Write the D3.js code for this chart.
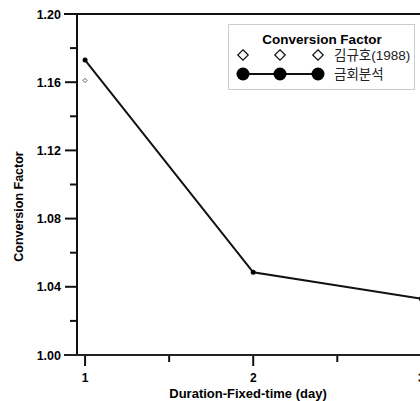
<!DOCTYPE html>
<html>
<head>
<meta charset="utf-8">
<script src="https://cdn.jsdelivr.net/npm/d3@7"></script>
<style>
  body { margin: 0; background: #fff; }
  text { font-family: Arial, "Liberation Sans", "Noto Sans CJK KR", sans-serif; }
</style>
</head>
<body>
<svg width="420" height="401"></svg>
<script>
const days = [1, 2, 3];
const current = [1.173, 1.0485, 1.033];   // 금회분석
const kimDays = [1];
const kim = [1.161];                      // 김규호(1988)
const yTicks = [1.00, 1.04, 1.08, 1.12, 1.16, 1.20];
const legendTitle = "Conversion Factor";
const legendNames = ["김규호(1988)", "금회분석"];

const svg = d3.select("svg");

const x = d3.scaleLinear().domain([0.952, 3.2]).range([77, 455]);
const y = d3.scaleLinear().domain([1.0, 1.2]).range([355, 14]);

// y axis: minor ticks
const g = svg.append("g");
g.selectAll(".yminor")
    .data(d3.range(1.02, 1.2, 0.04))
    .join("line")
    .attr("x1", 70).attr("x2", 77)
    .attr("y1", d => y(d)).attr("y2", d => y(d))
    .attr("stroke", "#111").attr("stroke-width", 2);

g.selectAll(".ymajor")
    .data(yTicks)
    .join("line")
    .attr("x1", 65).attr("x2", 77)
    .attr("y1", d => y(d)).attr("y2", d => y(d))
    .attr("stroke", "#111").attr("stroke-width", 2);

g.selectAll(".ylab")
    .data(yTicks)
    .join("text")
    .attr("x", 61).attr("y", d => y(d) + 4.5)
    .attr("text-anchor", "end")
    .style("font-size", "12.5px").style("font-weight", "bold")
    .text(d => d.toFixed(2));

// x axis ticks
g.selectAll(".xmajor")
    .data(days)
    .join("line")
    .attr("x1", d => x(d)).attr("x2", d => x(d))
    .attr("y1", 355).attr("y2", 366)
    .attr("stroke", "#111").attr("stroke-width", 2);

g.selectAll(".xminor")
    .data([1.5, 2.5])
    .join("line")
    .attr("x1", d => x(d)).attr("x2", d => x(d))
    .attr("y1", 355).attr("y2", 362)
    .attr("stroke", "#111").attr("stroke-width", 2);

g.selectAll(".xlab")
    .data(days)
    .join("text")
    .attr("x", d => x(d)).attr("y", 382)
    .attr("text-anchor", "middle")
    .style("font-size", "12px").style("font-weight", "bold")
    .text(d => d);

// frame lines
g.append("line").attr("x1", 77).attr("x2", 77).attr("y1", 14).attr("y2", 356)
    .attr("stroke", "#111").attr("stroke-width", 2);
g.append("line").attr("x1", 64).attr("x2", 420).attr("y1", 355).attr("y2", 355)
    .attr("stroke", "#222").attr("stroke-width", 2);
g.append("line").attr("x1", 64).attr("x2", 420).attr("y1", 14).attr("y2", 14)
    .attr("stroke", "#111").attr("stroke-width", 2);

// axis titles
svg.append("text")
    .attr("x", 248).attr("y", 397.5)
    .attr("text-anchor", "middle")
    .style("font-size", "13px").style("font-weight", "bold")
    .text("Duration-Fixed-time (day)");

svg.append("text")
    .attr("transform", `translate(23,${(14 + 355) / 2 + 22}) rotate(-90)`)
    .attr("text-anchor", "middle")
    .style("font-size", "12.5px").style("font-weight", "bold")
    .text("Conversion Factor");

// series
const pts = days.map((d, i) => [d, current[i]]);
svg.append("path")
    .datum(pts)
    .attr("fill", "none")
    .attr("stroke", "#111")
    .attr("stroke-width", 2)
    .attr("d", d3.line().x(d => x(d[0])).y(d => y(d[1])));

svg.selectAll(".cur")
    .data(pts)
    .join("circle")
    .attr("cx", d => x(d[0])).attr("cy", d => y(d[1]))
    .attr("r", 2.5).attr("fill", "#000");

svg.selectAll(".kim")
    .data(kimDays.map((d, i) => [d, kim[i]]))
    .join("path")
    .attr("transform", d => `translate(${x(d[0])},${y(d[1])})`)
    .attr("d", d3.symbol().type(d3.symbolDiamond2).size(12))
    .attr("fill", "#fff").attr("stroke", "#555").attr("stroke-width", 0.9);

// legend
const lg = svg.append("g");
lg.append("rect")
    .attr("x", 228.5).attr("y", 24.5).attr("width", 186).attr("height", 65)
    .attr("fill", "#fff").attr("stroke", "#ccc").attr("stroke-width", 1);
lg.append("text")
    .attr("x", 322).attr("y", 44)
    .attr("text-anchor", "middle")
    .style("font-size", "13.5px").style("font-weight", "bold")
    .text(legendTitle);

const lx = [243, 280, 318];
lg.selectAll(".ld")
    .data(lx)
    .join("path")
    .attr("transform", d => `translate(${d},55)`)
    .attr("d", d3.symbol().type(d3.symbolDiamond2).size(70))
    .attr("fill", "#fff").attr("stroke", "#111").attr("stroke-width", 1.2);
lg.append("line")
    .attr("x1", lx[0]).attr("x2", lx[2]).attr("y1", 74).attr("y2", 74)
    .attr("stroke", "#111").attr("stroke-width", 2);
lg.selectAll(".lc")
    .data(lx)
    .join("circle")
    .attr("cx", d => d).attr("cy", 74).attr("r", 6.5).attr("fill", "#000");

lg.selectAll(".lt")
    .data(legendNames)
    .join("text")
    .attr("x", 334).attr("y", (d, i) => 60 + i * 19)
    .style("font-size", "13.5px").style("fill", "#222")
    .text(d => d);
</script>
</body>
</html>
